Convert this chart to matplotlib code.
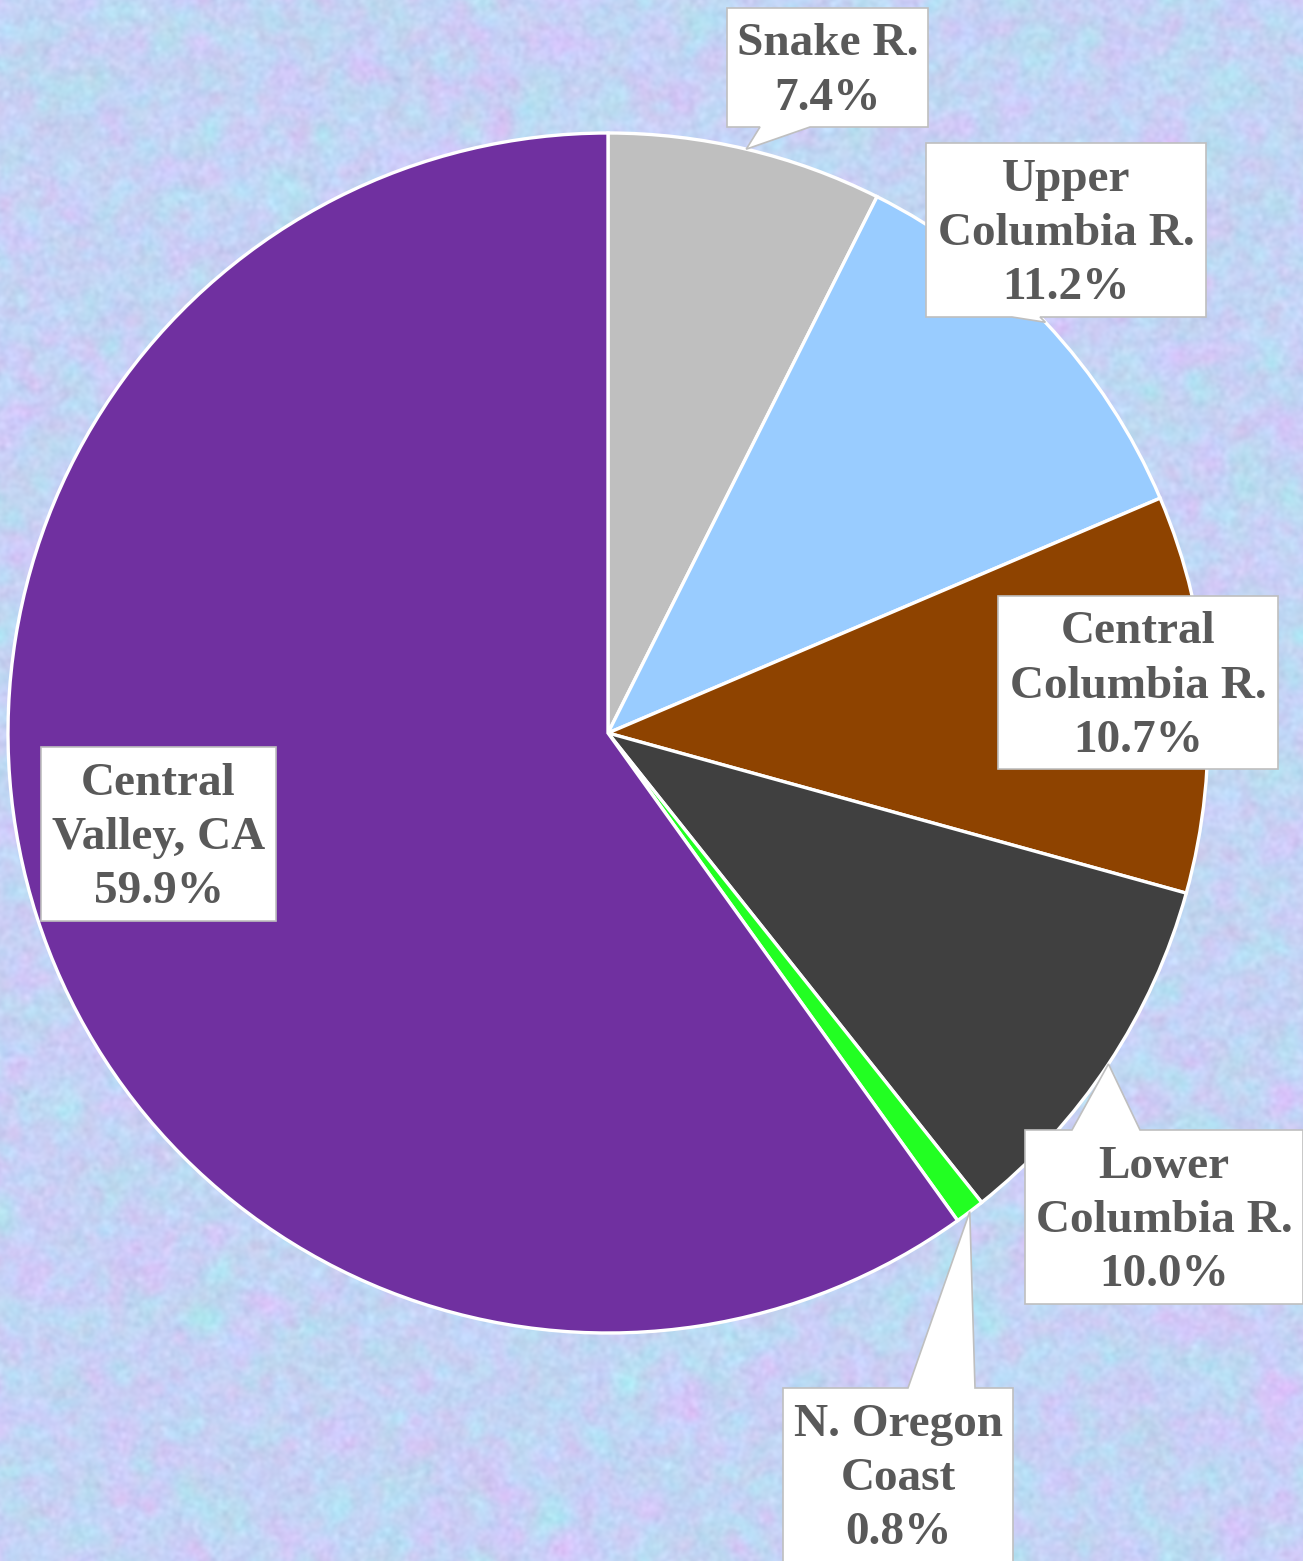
import numpy as np
import matplotlib
matplotlib.use("Agg")
import matplotlib.pyplot as plt
from matplotlib.patches import Polygon

# share of returning fish by region of origin
regions = ["Snake R.", "Upper\nColumbia R.", "Central\nColumbia R.",
           "Lower\nColumbia R.", "N. Oregon\nCoast", "Central\nValley, CA"]
shares = [7.4, 11.2, 10.7, 10.0, 0.8, 59.9]
colors = ["#BFBFBF", "#99CCFF", "#8E4300", "#404040", "#22FF22", "#7030A0"]

W, H = 1303, 1561
cx, cy, R = 608, 733, 600   # pie centre / radius in pixels


def to_data(px, py):
    return (px - cx) / R, (cy - py) / R


# callout boxes: centre (px), width, height, tail side, tail base x-range (px)
callouts = [
    ((827.5, 67.5), 201, 119, "bottom", (760, 810)),
    ((1066, 230), 280, 174, "bottom", (1012, 1040)),
    ((1138, 682.5), 280, 173, None, None),
    ((1164, 1217), 278, 174, "top", (1072, 1140)),
    ((898, 1475), 230, 174, "top", (908, 975)),
    ((158.5, 834), 235, 174, None, None),
]

fig = plt.figure(figsize=(W / 100, H / 100), dpi=100)

# soft marbled paper background
rng = np.random.default_rng(7)
fy = np.fft.fftfreq(H)[:, None]
fx = np.fft.fftfreq(W)[None, :]
chans = []
for s in (0.015, 0.03, 0.08):
    n = rng.normal(size=(H, W))
    g = np.exp(-(fx ** 2 + fy ** 2) / (2 * s ** 2))
    f = np.real(np.fft.ifft2(np.fft.fft2(n) * g))
    f = (f - f.mean()) / f.std()
    chans.append(f)
a, b, c = chans
base = np.array([0.77, 0.83, 0.96])
img = np.empty((H, W, 3))
img[..., 0] = base[0] + 0.02 * a - 0.012 * b + 0.012 * c
img[..., 1] = base[1] - 0.016 * a + 0.012 * b + 0.012 * c
img[..., 2] = base[2] + 0.008 * a + 0.006 * b + 0.01 * c
img = np.clip(img, 0, 1)
bg = fig.add_axes([0, 0, 1, 1])
bg.imshow(img, aspect="auto", interpolation="bilinear")
bg.axis("off")

ax = fig.add_axes([0, 0, 1, 1])
ax.patch.set_alpha(0)
x0, y1 = to_data(0, 0)
x1, y0 = to_data(W, H)

wedges, _ = ax.pie(shares, colors=colors, startangle=90, counterclock=False,
                   radius=1, center=(0, 0), frame=True,
                   wedgeprops=dict(edgecolor="white", linewidth=2.4))
ax.set_xlim(x0, x1)
ax.set_ylim(y0, y1)
ax.set_aspect("equal")
ax.axis("off")

for w, name, val, (ctr, bw, bh, side, span) in zip(wedges, regions, shares, callouts):
    mid = np.deg2rad((w.theta1 + w.theta2) / 2)
    tip = (np.cos(mid) * 1.0, np.sin(mid) * 1.0)
    l, r = ctr[0] - bw / 2, ctr[0] + bw / 2
    t, btm = ctr[1] - bh / 2, ctr[1] + bh / 2
    if side == "bottom":
        pts = [(l, t), (r, t), (r, btm), (span[1], btm), None, (span[0], btm), (l, btm)]
    elif side == "top":
        pts = [(l, t), (span[0], t), None, (span[1], t), (r, t), (r, btm), (l, btm)]
    else:
        pts = [(l, t), (r, t), (r, btm), (l, btm)]
    verts = [tip if p is None else to_data(*p) for p in pts]
    ax.add_patch(Polygon(verts, closed=True, facecolor="white",
                         edgecolor="#BFBFBF", linewidth=1.2, zorder=5))
    tx, ty = to_data(ctr[0], ctr[1] + 4)
    ax.text(tx, ty, f"{name}\n{val:.1f}%", ha="center", va="center",
            multialignment="center", fontsize=34, fontweight="bold",
            family="Liberation Serif", color="#595959", linespacing=1.39,
            zorder=6)

fig.savefig("out.png", dpi=100)
